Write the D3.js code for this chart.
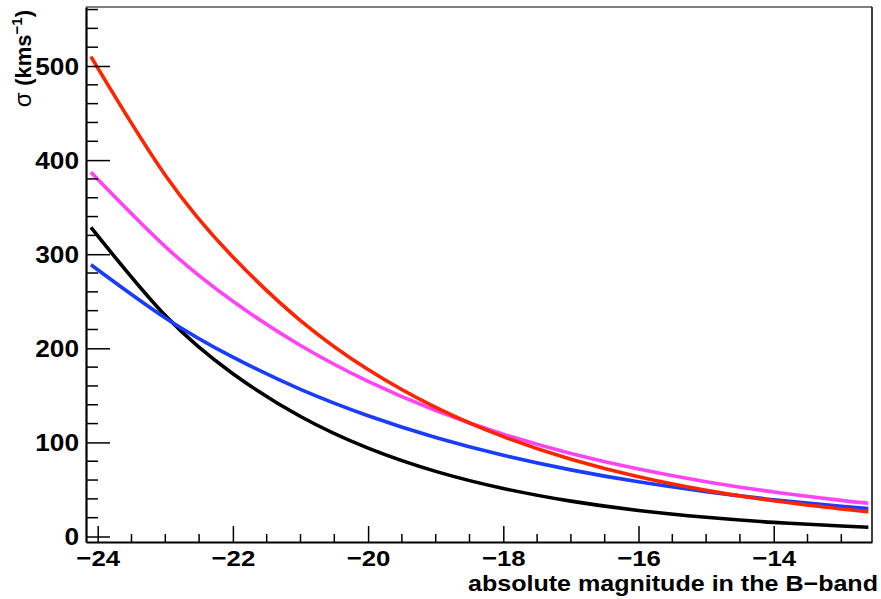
<!DOCTYPE html>
<html>
<head>
<meta charset="utf-8">
<script src="https://cdn.jsdelivr.net/npm/d3@7"></script>
<style>
  html, body { margin: 0; padding: 0; background: #fff; }
  svg text { font-family: "Liberation Sans", Arial, Helvetica, sans-serif; font-weight: bold; fill: #000; }
</style>
</head>
<body>
<svg id="chart" width="881" height="599"></svg>
<script>
const magnitudes = [-24.1, -23, -22, -21, -20, -19, -18, -17, -16, -15, -14, -13, -12.6];
// Velocity dispersion sigma (km/s) for each curve
const redValues     = [510, 384, 297, 229.5, 177.4, 137.2, 106.1, 82.0, 63.4, 49.0, 37.9, 29.3, 26.4];
const magentaValues = [387, 308, 250, 203, 164.9, 133.9, 108.7, 88.3, 71.7, 58.2, 47.3, 38.4, 35.3];
const blueValues    = [288.8, 232.3, 190.6, 156.3, 128.3, 105.2, 86.3, 70.8, 58.1, 47.7, 39.1, 32.1, 29.6];
const blackValues   = [328.5, 234.8, 173.0, 127.5, 93.9, 69.2, 51.0, 37.6, 27.7, 20.4, 15.0, 11.1, 9.8];
const seriesNames   = ["black", "blue", "magenta", "red"];
const seriesColors  = ["#000000", "#1a3cff", "#ff44f4", "#ff2400"];
// Tick labels
const xTickValues = [-24, -22, -20, -18, -16, -14];
const yTickValues = [0, 100, 200, 300, 400, 500];
const xTitle = "absolute magnitude in the B\u2212band";

const svg = d3.select("#chart");
const frameL = 86, frameR = 872, frameT = 7, frameB = 542;

const x = d3.scaleLinear().domain([-24.173, -12.546]).range([frameL, frameR]);
const y = d3.scaleLinear().domain([-5.84, 562.7]).range([frameB, frameT]);

// Curves
const allSeries = [blackValues, blueValues, magentaValues, redValues];
const line = d3.line()
  .x((d, i) => x(magnitudes[i]))
  .y(d => y(d))
  .curve(d3.curveNatural);

const g = svg.append("g");
allSeries.forEach((vals, k) => {
  g.append("path")
    .datum(vals)
    .attr("d", line)
    .attr("fill", "none")
    .attr("stroke", seriesColors[k])
    .attr("stroke-width", 3.6)
    .attr("stroke-linecap", "butt")
    .attr("class", "series-" + seriesNames[k]);
});

// Frame
svg.append("line").attr("x1", frameL).attr("x2", frameR).attr("y1", frameT).attr("y2", frameT)
  .attr("stroke", "#000").attr("stroke-width", 1.2);
svg.append("line").attr("x1", frameR).attr("x2", frameR).attr("y1", frameT).attr("y2", frameB)
  .attr("stroke", "#000").attr("stroke-width", 1.5);

// Minor ticks
const xMinor = d3.range(-24, -12, 0.5).filter(v => v >= x.domain()[0] && v <= x.domain()[1] && !xTickValues.includes(v));
const yMinor = d3.range(0, 563, 20).filter(v => v % 100 !== 0 && v <= y.domain()[1]);

// X axis
const xAxis = d3.axisBottom(x).tickValues(xTickValues).tickSizeInner(-16).tickSizeOuter(0)
  .tickFormat(d => d3.format("d")(d).replace("-", "\u2212"));
const xg = svg.append("g").attr("transform", `translate(0,${frameB})`).call(xAxis);
xg.select(".domain").attr("stroke", "#000").attr("stroke-width", 2.2);
xg.selectAll(".tick line").attr("stroke", "#000").attr("stroke-width", 1.5);
xg.selectAll(".tick text").attr("font-size", 23).attr("dy", 0).attr("y", 0)
  .attr("transform", "translate(0,24) scale(1.12,1)").attr("fill", "#000");
xMinor.forEach(v => {
  xg.append("line").attr("x1", x(v)).attr("x2", x(v)).attr("y1", 0).attr("y2", -8)
    .attr("stroke", "#000").attr("stroke-width", 1.5);
});

// Y axis
const yAxis = d3.axisLeft(y).tickValues(yTickValues).tickSizeInner(-24).tickSizeOuter(0)
  .tickFormat(d3.format("d"));
const yg = svg.append("g").attr("transform", `translate(${frameL},0)`).call(yAxis);
yg.select(".domain").attr("stroke", "#000").attr("stroke-width", 2.2);
yg.selectAll(".tick line").attr("stroke", "#000").attr("stroke-width", 1.5);
yg.selectAll(".tick text").attr("font-size", 23).attr("x", 0).attr("dy", "0.36em")
  .attr("transform", "translate(-7,0) scale(1.14,1)")
  .attr("text-anchor", "end").attr("fill", "#000");
yMinor.forEach(v => {
  yg.append("line").attr("x1", 0).attr("x2", 12).attr("y1", y(v)).attr("y2", y(v))
    .attr("stroke", "#000").attr("stroke-width", 1.5);
});

// Axis titles
svg.append("text")
  .attr("x", 878).attr("y", 591)
  .attr("text-anchor", "end")
  .attr("font-size", 22)
  .attr("textLength", 410)
  .attr("lengthAdjust", "spacingAndGlyphs")
  .text(xTitle);

const yt = svg.append("text")
  .attr("transform", "translate(31,10) rotate(-90)")
  .attr("text-anchor", "end")
  .attr("font-size", 22);
yt.append("tspan").attr("font-weight", "normal").attr("font-size", 24).text("\u03c3 ");
yt.append("tspan").text("(kms");
yt.append("tspan").attr("font-size", 15).attr("dy", -9).text("\u22121");
yt.append("tspan").attr("dy", 9).text(")");
</script>
</body>
</html>
